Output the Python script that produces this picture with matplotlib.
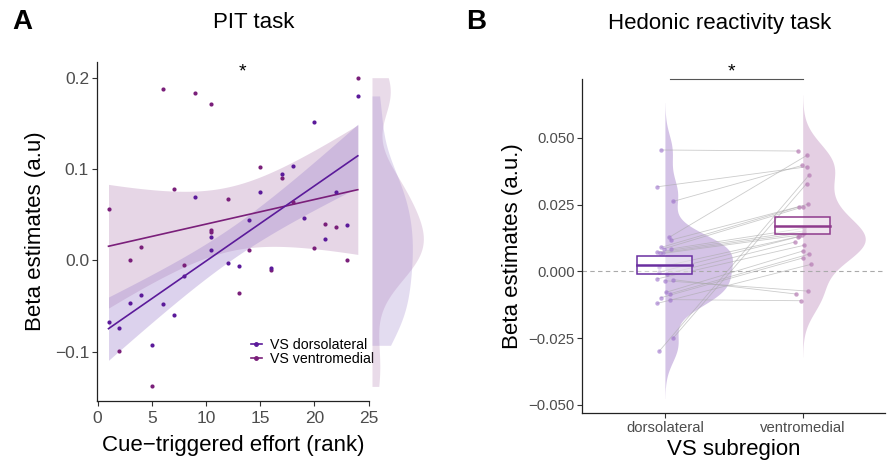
import numpy as np
import matplotlib.pyplot as plt
from matplotlib.lines import Line2D
from matplotlib.patches import Rectangle

plt.rcParams['font.family'] = ['Liberation Sans', 'DejaVu Sans']

# A: PIT task, cue-triggered effort rank vs beta, per VS subregion
rank_dl = [1, 2, 3, 4, 5, 6, 7, 8, 9, 10.5, 10.5, 12, 13, 14, 15, 16, 17, 18, 19, 20, 21, 22, 23, 24]
beta_dl = [-0.067, -0.074, -0.047, -0.038, -0.093, -0.048, -0.060, -0.017, 0.069, 0.011, 0.026, -0.003,
           -0.006, 0.044, 0.075, -0.008, 0.094, 0.103, 0.046, 0.152, 0.023, 0.075, 0.039, 0.180]
rank_vm = [1, 2, 3, 4, 5, 6, 7, 8, 9, 10.5, 10.5, 10.5, 12, 13, 14, 15, 16, 17, 18, 20, 21, 22, 23, 24]
beta_vm = [0.056, -0.099, 0.000, 0.015, -0.138, 0.188, 0.078, -0.005, 0.183, 0.171, 0.031, 0.033,
           0.067, -0.036, 0.011, 0.102, -0.011, 0.090, 0.064, 0.014, 0.040, 0.037, 0.000, 0.200]

# B: hedonic reactivity task, paired betas (same order = same subject)
hed_dl = [0.0455, 0.0317, 0.0262, 0.0127, 0.0117, -0.0299, -0.0251, 0.0090, 0.0085, 0.0084, 0.0072, 0.0069,
          0.0067, 0.0015, -0.0003, -0.0010, -0.0028, -0.0035, -0.0031, -0.0079, -0.0084, -0.0099, -0.0106, -0.0120]
hed_vm = [0.0451, 0.0392, 0.0397, 0.0435, 0.0252, 0.0362, 0.0329, 0.0242, 0.0242, 0.0162, 0.0152, 0.0145,
          0.0137, 0.0131, 0.0129, 0.0110, 0.0098, -0.0074, -0.0085, 0.0077, 0.0065, 0.0050, -0.0110, 0.0026]
jit_dl = [-0.031, -0.055, 0.058, 0.029, 0.041, -0.041, 0.058, -0.026, -0.007, 0.041, -0.055, -0.036,
          -0.017, -0.044, -0.044, 0.012, -0.055, 0.0, 0.058, 0.005, 0.036, -0.031, 0.036, -0.055]
jit_vm = [-0.032, 0.031, -0.005, 0.031, 0.041, 0.048, 0.029, -0.027, 0.005, 0.012, 0.012, 0.012,
          -0.007, -0.025, -0.036, -0.056, 0.012, 0.036, -0.047, 0.005, 0.048, 0.0, -0.015, 0.058]
groups = ['dorsolateral', 'ventromedial']

c_dl = '#5B1A9A'
c_vm = '#7A1F7A'
T22 = 2.074  # t quantile, 22 df


def ols_band(x, y, grid):
    x = np.asarray(x); y = np.asarray(y)
    b1, b0 = np.polyfit(x, y, 1)
    n = len(x)
    s = np.sqrt(np.sum((y - (b0 + b1 * x)) ** 2) / (n - 2))
    sxx = np.sum((x - x.mean()) ** 2)
    fit = b0 + b1 * grid
    se = s * np.sqrt(1 / n + (grid - x.mean()) ** 2 / sxx)
    return fit, fit - T22 * se, fit + T22 * se


def bw_nrd0(v):
    v = np.asarray(v)
    q1, q3 = np.percentile(v, [25, 75])
    return 0.9 * min(v.std(ddof=1), (q3 - q1) / 1.34) * len(v) ** -0.2


def kde(v, grid, bw):
    v = np.asarray(v)
    z = (grid[:, None] - v[None, :]) / bw
    return np.exp(-0.5 * z ** 2).sum(1) / (len(v) * bw * np.sqrt(2 * np.pi))


def style(ax, labsize):
    for s in ['top', 'right']:
        ax.spines[s].set_visible(False)
    for s in ['left', 'bottom']:
        ax.spines[s].set_color('#222222')
        ax.spines[s].set_linewidth(0.9)
    ax.tick_params(length=3.5, width=0.8, color='#333333', labelcolor='#4D4D4D',
                   labelsize=labsize, pad=2)


fig = plt.figure(figsize=(8.88, 4.62), dpi=100)

# ---------------- panel A
axA = fig.add_axes([0.1089, 0.132, 0.3066, 0.7345])
grid = np.linspace(1, 24, 100)
f_vm, lo_vm, hi_vm = ols_band(rank_vm, beta_vm, grid)
f_dl, lo_dl, hi_dl = ols_band(rank_dl, beta_dl, grid)
axA.fill_between(grid, lo_vm, hi_vm, color='#B98AB8', alpha=0.35, lw=0)
axA.fill_between(grid, lo_dl, hi_dl, color='#A58BD0', alpha=0.38, lw=0)
axA.plot(grid, f_vm, color=c_vm, lw=1.2)
axA.plot(grid, f_dl, color=c_dl, lw=1.2)
axA.scatter(rank_vm, beta_vm, s=9, color=c_vm, lw=0, zorder=3)
axA.scatter(rank_dl, beta_dl, s=9, color=c_dl, lw=0, zorder=3)
axA.set_xlim(-0.09, 25.03)
axA.set_ylim(-0.154, 0.2175)
axA.set_xticks([0, 5, 10, 15, 20, 25])
axA.set_yticks([-0.1, 0.0, 0.1, 0.2])
axA.set_yticklabels(['\u22120.1', '0.0', '0.1', '0.2'])
style(axA, 12.5)
axA.tick_params(axis='x', pad=4)
axA.set_xlabel('Cue\u2212triggered effort (rank)', fontsize=16, labelpad=6)
axA.set_ylabel('Beta estimates (a.u)', fontsize=16, labelpad=6)
hd = [Line2D([], [], color=c_dl, lw=1.2, marker='o', ms=2.5),
      Line2D([], [], color=c_vm, lw=1.2, marker='o', ms=2.5)]
axA.legend(hd, ['VS dorsolateral', 'VS ventromedial'], loc='center left',
           bbox_to_anchor=(0.565, 0.145), frameon=False, fontsize=10.2, handlelength=0.8,
           handletextpad=0.6, labelspacing=0.0, borderpad=0, borderaxespad=0)

# marginal densities
axM = fig.add_axes([0.4189, 0.132, 0.07, 0.7345], sharey=axA)
dmax = 0
for vals, col in [(beta_vm, '#B98AB8'), (beta_dl, '#A58BD0')]:
    yy = np.linspace(min(vals), max(vals), 200)
    d = kde(vals, yy, bw_nrd0(vals))
    dmax = max(dmax, d.max())
    axM.fill_betweenx(yy, 0, d, color=col, alpha=0.3, lw=0)
axM.set_xlim(0, dmax * 1.21)
axM.axis('off')

# ---------------- panel B
axB = fig.add_axes([0.6557, 0.1054, 0.3413, 0.723])
bws = [bw_nrd0(hed_dl), bw_nrd0(hed_vm)]
vgrids, vdens = [], []
for vals, bw in zip([hed_dl, hed_vm], bws):
    g = np.linspace(min(vals) - 3 * bw, max(vals) + 3 * bw, 300)
    vgrids.append(g)
    vdens.append(kde(vals, g, bw))
wscale = 0.49 / max(d.max() for d in vdens)
for i, (g, d, col, al) in enumerate(zip(vgrids, vdens, ['#8E63BE', '#A661A3'], [0.38, 0.3])):
    axB.fill_betweenx(g, i + 1, i + 1 + d * wscale, color=col, alpha=al, lw=0, zorder=1)

axB.axhline(0, color='#AAAAAA', lw=0.8, ls=(0, (4, 3)), zorder=1.5)
x_dl = 1 + np.array(jit_dl)
x_vm = 2 + np.array(jit_vm)
for a, b, ya, yb in zip(x_dl, x_vm, hed_dl, hed_vm):
    axB.plot([a, b], [ya, yb], color='#AAAAAA', lw=0.6, alpha=0.6, zorder=2)
axB.scatter(x_dl, hed_dl, s=10, color='#9B6FCB', alpha=0.6, lw=0, zorder=3)
axB.scatter(x_vm, hed_vm, s=10, color='#B57AB3', alpha=0.7, lw=0, zorder=3)

for i, (vals, ec) in enumerate(zip([hed_dl, hed_vm], ['#6A2FA0', '#8E3A8C'])):
    v = np.asarray(vals)
    m = v.mean()
    se = v.std(ddof=1) / np.sqrt(len(v))
    axB.add_patch(Rectangle((i + 1 - 0.2, m - se), 0.4, 2 * se, facecolor=(1, 1, 1, 0.45),
                            edgecolor=ec, lw=1.1, zorder=4))
    axB.plot([i + 1 - 0.2, i + 1 + 0.2], [m, m], color=ec, lw=1.8, zorder=5)

axB.plot([1.04, 2.0], [0.0722, 0.0722], color='#555555', lw=0.8, clip_on=False)
axB.set_xlim(0.4, 2.6)
axB.set_ylim(-0.0532, 0.072)
axB.set_xticks([1, 2])
axB.set_xticklabels(groups)
axB.set_yticks([-0.05, -0.025, 0, 0.025, 0.05])
axB.set_yticklabels(['\u22120.050', '\u22120.025', '0.000', '0.025', '0.050'])
style(axB, 10.7)
axB.set_xlabel('VS subregion', fontsize=16, labelpad=3)
axB.set_ylabel('Beta estimates (a.u.)', fontsize=16, labelpad=4)

# titles, letters, stars
fig.text(22 / 888, 1 - 22 / 462, 'A', fontsize=20, fontweight='bold', ha='center', va='center')
fig.text(476 / 888, 1 - 22 / 462, 'B', fontsize=20, fontweight='bold', ha='center', va='center')
fig.text(254 / 888, 1 - 23 / 462, 'PIT task', fontsize=16, ha='center', va='center')
fig.text(720 / 888, 1 - 23 / 462, 'Hedonic reactivity task', fontsize=16, ha='center', va='center')
fig.text(242 / 888, 1 - 72 / 462, '*', fontsize=14, ha='center', va='center')
fig.text(731 / 888, 1 - 72 / 462, '*', fontsize=14, ha='center', va='center')

fig.savefig('out.png', dpi=100)
